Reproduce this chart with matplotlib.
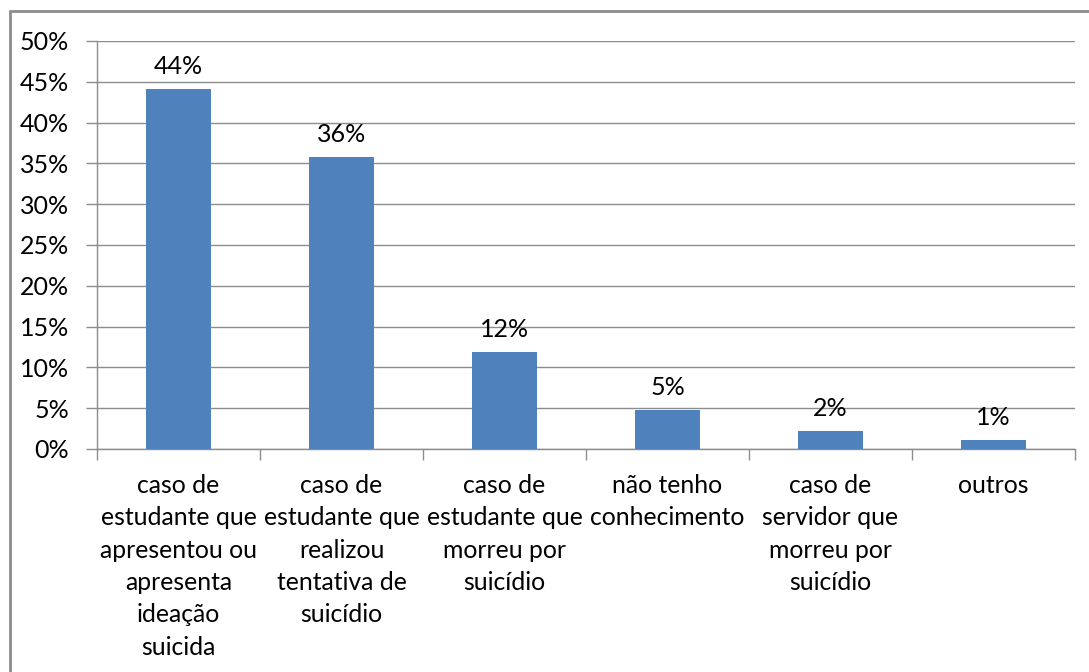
import numpy as np
import matplotlib.pyplot as plt
from matplotlib.patches import Rectangle
from matplotlib.ticker import PercentFormatter

# Categorias e valores (fração)
categorias = ['caso de\nestudante que\napresentou ou\napresenta\nideação\nsuicida',
              'caso de\nestudante que\nrealizou\ntentativa de\nsuicídio',
              'caso de\nestudante que\nmorreu por\nsuicídio',
              'não tenho\nconhecimento',
              'caso de\nservidor que\nmorreu por\nsuicídio',
              'outros']
valores = [0.441, 0.358, 0.119, 0.048, 0.022, 0.011]

plt.rcParams['font.family'] = ['Lato', 'DejaVu Sans']

fig = plt.figure(figsize=(10.89, 6.72), dpi=100)
ax = fig.add_axes([97/1089, 1 - 449/672, (1075-97)/1089, (449-41)/672])

# moldura externa (só esquerda e topo aparecem)
fig.patches.append(Rectangle((10/1089, -0.1), 1.2, 1 - 11/672 + 0.1,
                             transform=fig.transFigure, fill=False,
                             edgecolor='#8c8c8c', linewidth=2))

x = np.arange(len(valores))
ax.bar(x, valores, width=0.4, color='#4f81bd', zorder=3)

for i, v in enumerate(valores):
    ax.annotate('{:.0%}'.format(v), (x[i], v), xytext=(0, 8),
                textcoords='offset points', ha='center', va='bottom',
                fontsize=18, color='#000000')

ax.set_xlim(-0.5, len(valores) - 0.5)
ax.set_ylim(0, 0.5)
ax.set_yticks(np.arange(0, 0.51, 0.05))
ax.yaxis.set_major_formatter(PercentFormatter(1.0, decimals=0))
ax.grid(axis='y', color='#8c8c8c', linewidth=1, zorder=0)

ax.set_xticks(x)
ax.set_xticklabels(categorias, fontsize=17.8, linespacing=1.49, va='top')
ax.set_xticks(np.arange(-0.5, len(valores)), minor=True)
ax.tick_params(axis='x', which='major', length=0, pad=18)
ax.tick_params(axis='x', which='minor', length=8, color='#8c8c8c', width=1)
ax.tick_params(axis='y', length=8, color='#8c8c8c', width=1, labelsize=18, pad=12)

for s in ['top', 'right']:
    ax.spines[s].set_visible(False)
for s in ['left', 'bottom']:
    ax.spines[s].set_color('#8c8c8c')
    ax.spines[s].set_linewidth(1)

plt.savefig('out.png', dpi=100)
